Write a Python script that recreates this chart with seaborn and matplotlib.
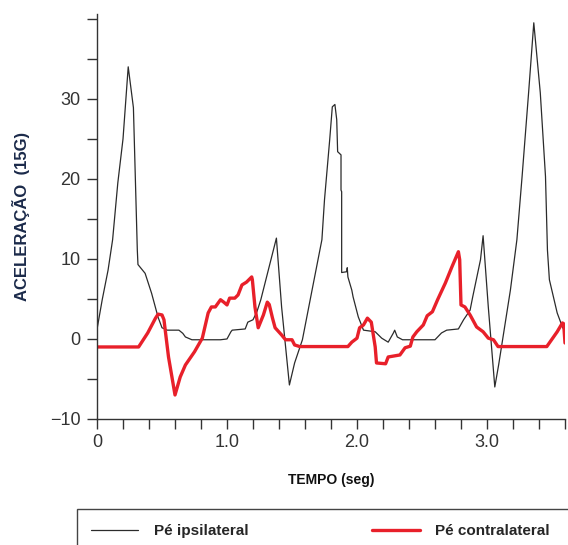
import matplotlib
matplotlib.use("Agg")
import matplotlib.pyplot as plt
from matplotlib.patches import Rectangle
import numpy as np
import pandas as pd
import seaborn as sns

sns.set_style("white")
plt.rcParams["font.family"] = ["Liberation Sans", "DejaVu Sans"]
dark, red, navy = "#2b2b2b", "#e8202a", "#1b2a4a"

# ipsilateral foot (black trace)
ipsi_t = [0.00, 0.04, 0.085, 0.12, 0.16, 0.20, 0.24, 0.28, 0.31, 0.315, 0.37, 0.42, 0.47,
          0.50, 0.54, 0.58, 0.63, 0.66, 0.68, 0.73, 0.95, 1.00, 1.03, 1.04, 1.14, 1.16,
          1.20, 1.23, 1.26, 1.38, 1.42, 1.48, 1.52, 1.58, 1.65, 1.73, 1.75, 1.79, 1.81,
          1.83, 1.844, 1.851, 1.877, 1.877, 1.882, 1.882, 1.921, 1.925, 1.93, 1.96, 1.97,
          2.01, 2.05, 2.14, 2.19, 2.24, 2.28, 2.29, 2.31, 2.35, 2.60, 2.65, 2.69, 2.78,
          2.82, 2.87, 2.89, 2.95, 2.97, 3.01, 3.06, 3.09, 3.12, 3.18, 3.23, 3.27, 3.32,
          3.36, 3.41, 3.45, 3.465, 3.48, 3.54, 3.58, 3.60]
ipsi_v = [1.2, 4.9, 8.6, 12.4, 19.5, 25.0, 34.0, 28.9, 11.1, 9.3, 8.2, 5.7, 2.7,
          1.4, 1.1, 1.1, 1.1, 0.7, 0.25, -0.1, -0.1, 0.0, 0.9, 1.1, 1.25, 2.1,
          2.4, 3.4, 4.9, 12.6, 4.0, -5.75, -3.0, -0.1, 5.75, 12.4, 17.4, 24.9, 29.0,
          29.3, 27.4, 23.4, 23.0, 18.6, 18.4, 8.3, 8.4, 8.9, 7.75, 6.1, 5.25,
          2.75, 1.1, 0.9, 0.1, -0.4, 0.75, 1.1, 0.25, -0.1, -0.1, 0.75, 1.1, 1.25,
          2.4, 3.6, 5.25, 9.9, 12.9, 4.0, -6.0, -3.2, -0.1, 6.1, 12.4, 20.3, 30.75,
          39.5, 30.75, 20.3, 11.1, 7.4, 3.25, 1.5, 0.9]

# contralateral foot (red trace)
contra_t = [0.00, 0.32, 0.39, 0.45, 0.47, 0.50, 0.515, 0.55, 0.60, 0.64, 0.68, 0.75, 0.81,
            0.83, 0.855, 0.88, 0.91, 0.95, 0.975, 1.00, 1.02, 1.06, 1.085, 1.115, 1.15,
            1.19, 1.195, 1.215, 1.24, 1.28, 1.31, 1.325, 1.35, 1.37, 1.42, 1.45, 1.50,
            1.52, 1.56, 1.93, 1.96, 2.00, 2.02, 2.05, 2.08, 2.11, 2.14, 2.15, 2.22, 2.24,
            2.33, 2.37, 2.41, 2.43, 2.46, 2.51, 2.54, 2.58, 2.62, 2.68, 2.73, 2.78, 2.79,
            2.80, 2.83, 2.87, 2.92, 2.97, 3.01, 3.05, 3.085, 3.46, 3.54, 3.58, 3.59, 3.60]
contra_v = [-1.0, -1.0, 0.75, 2.6, 3.1, 3.0, 2.4, -2.25, -7.0, -4.75, -3.25, -1.6, 0.1,
            1.5, 3.25, 4.0, 4.0, 4.9, 4.6, 4.25, 5.1, 5.1, 5.5, 6.75, 7.1,
            7.75, 7.4, 4.0, 1.4, 3.0, 4.6, 4.3, 2.6, 1.4, 0.5, -0.1, -0.1,
            -0.75, -0.95, -0.95, -0.4, 0.1, 1.4, 1.75, 2.6, 2.1, -1.0, -3.0, -3.1, -2.25,
            -2.0, -1.1, -0.9, 0.25, 0.9, 1.75, 2.9, 3.4, 4.9, 7.0, 9.0, 10.9, 9.9,
            4.25, 4.0, 3.0, 1.5, 0.9, 0.1, -0.1, -0.95, -0.95, 0.9, 2.0, 1.9, -0.5]

x_ticks = np.round(np.arange(0, 3.61, 0.2), 1)
x_labels = {0.0: "0", 1.0: "1.0", 2.0: "2.0", 3.0: "3.0"}
y_ticks = np.arange(-10, 41, 5)
y_labels = {-10: "\u221210", 0: "0", 10: "10", 20: "20", 30: "30"}

ipsi = pd.DataFrame({"t": ipsi_t, "v": ipsi_v})
contra = pd.DataFrame({"t": contra_t, "v": contra_v})

fig = plt.figure(figsize=(5.68, 5.45), dpi=100)
ax = fig.add_axes([0.1708, 0.2312, 0.8239, 0.7431])
sns.lineplot(data=ipsi, x="t", y="v", ax=ax, sort=False, estimator=None,
             color=dark, lw=0.9, label="Pé ipsilateral")
sns.lineplot(data=contra, x="t", y="v", ax=ax, sort=False, estimator=None,
             color=red, lw=2.4, label="Pé contralateral")

ax.set_xlim(0, 3.6)
ax.set_ylim(-10, 40.6)
ax.set_xticks(x_ticks)
ax.set_xticklabels([x_labels.get(float(t), "") for t in x_ticks])
ax.set_yticks(y_ticks)
ax.set_yticklabels([y_labels.get(int(t), "") for t in y_ticks])
ax.tick_params(direction="out", length=7, width=1, color="#333333",
               bottom=True, left=True, labelsize=13, labelcolor="#333333")
ax.tick_params(axis="x", pad=4)
ax.tick_params(axis="y", pad=5)
ax.spines[["top", "right"]].set_visible(False)
for s in ["left", "bottom"]:
    ax.spines[s].set_color("#333333")
    ax.spines[s].set_linewidth(1)

ax.set_xlabel("TEMPO (seg)", fontsize=10, weight="bold", color="#111111", labelpad=16)
ax.set_ylabel("ACELERAÇÃO  (15G)", fontsize=12, weight="bold", color=navy, labelpad=14)

handles, labels = ax.get_legend_handles_labels()
ax.get_legend().remove()
fig.legend(handles, labels, ncol=2, frameon=False, loc="center left",
           bbox_to_anchor=(0.1486, 1 - 531 / 545), borderaxespad=0,
           prop={"size": 11, "weight": "bold"}, handlelength=3.14,
           handletextpad=1.0, columnspacing=8.1)
fig.patches.append(Rectangle((77 / 568, -0.05), 1.0, (545 - 509) / 545 + 0.05,
                             transform=fig.transFigure, fill=False,
                             edgecolor="#444444", lw=1))

fig.savefig("out.png", dpi=100)
